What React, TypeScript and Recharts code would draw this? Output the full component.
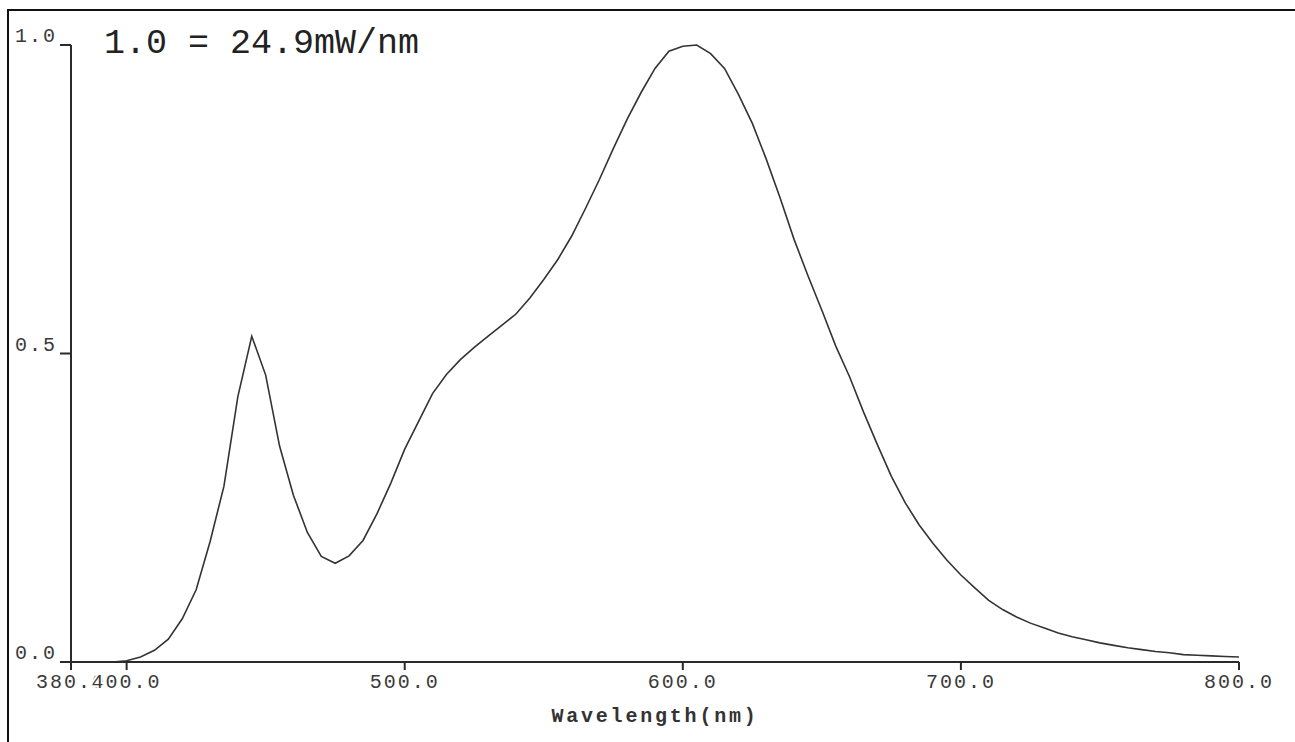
import React from "react";
import { LineChart, Line, XAxis, YAxis } from "recharts";

// relative spectral power, sampled every 5 nm
const wavelengths = [
  380, 385, 390, 395, 400, 405, 410, 415, 420, 425, 430, 435, 440, 445, 450,
  455, 460, 465, 470, 475, 480, 485, 490, 495, 500, 505, 510, 515, 520, 525,
  530, 535, 540, 545, 550, 555, 560, 565, 570, 575, 580, 585, 590, 595, 600,
  605, 610, 615, 620, 625, 630, 635, 640, 645, 650, 655, 660, 665, 670, 675,
  680, 685, 690, 695, 700, 705, 710, 715, 720, 725, 730, 735, 740, 745, 750,
  755, 760, 765, 770, 775, 780, 785, 790, 795, 800,
];
const intensity = [
  0.0, 0.0, 0.0, 0.0, 0.002, 0.008, 0.019, 0.037, 0.07, 0.117, 0.195, 0.285,
  0.43, 0.528, 0.465, 0.35, 0.27, 0.21, 0.171, 0.16, 0.172, 0.197, 0.24, 0.29,
  0.345, 0.39, 0.435, 0.466, 0.49, 0.51, 0.528, 0.546, 0.564, 0.59, 0.62,
  0.652, 0.69, 0.735, 0.782, 0.832, 0.88, 0.923, 0.962, 0.99, 0.998, 1.0,
  0.986, 0.962, 0.92, 0.873, 0.815, 0.752, 0.685, 0.626, 0.57, 0.512, 0.462,
  0.405, 0.352, 0.301, 0.258, 0.222, 0.192, 0.165, 0.141, 0.12, 0.1, 0.085,
  0.073, 0.063, 0.055, 0.047, 0.041, 0.036, 0.031, 0.027, 0.023, 0.02, 0.017,
  0.015, 0.012, 0.011, 0.01, 0.009, 0.008,
];
const xTicks = [380, 400, 500, 600, 700, 800];
const yTicks = [0, 0.5, 1.0];
const scaleNote = "1.0 = 24.9mW/nm";
const xTitle = "Wavelength(nm)";

const data = wavelengths.map((w, i) => ({ w, v: intensity[i] }));

const FONT = "'Liberation Mono', 'DejaVu Sans Mono', monospace";
const INK = "#2a2a2a";

const XTick = (props: any) => {
  const { x, y, payload } = props;
  return (
    <text
      x={x}
      y={y + 18}
      textAnchor="middle"
      fontFamily={FONT}
      fontSize={20}
      letterSpacing={2}
      fill="#3a3a3a"
      stroke="#fff"
      strokeWidth={4}
      paintOrder="stroke"
    >
      {Number(payload.value).toFixed(1)}
    </text>
  );
};

const YTick = (props: any) => {
  const { x, y, payload } = props;
  return (
    <text
      x={x - 3}
      y={y - 3}
      textAnchor="end"
      fontFamily={FONT}
      fontSize={20}
      letterSpacing={2}
      fill="#3a3a3a"
    >
      {Number(payload.value).toFixed(1)}
    </text>
  );
};

const App = () => {
  return (
    <>
      <style>{`html, body { overflow: hidden; background: #fff; }`}</style>
      <div
        style={{
          position: "fixed",
          left: 0,
          top: 0,
          width: 1295,
          height: 742,
          background: "#fff",
          overflow: "hidden",
        }}
      >
        {/* window frame: left and top edges only */}
        <div style={{ position: "absolute", left: 8, top: 9, width: 1287, height: 2, background: "#111" }} />
        <div style={{ position: "absolute", left: 7, top: 9, width: 2, height: 733, background: "#111" }} />
        <div
          style={{
            position: "absolute",
            left: 104,
            top: 27,
            fontFamily: FONT,
            fontSize: 35,
            lineHeight: 1,
            color: "#222",
            whiteSpace: "pre",
          }}
        >
          {scaleNote}
        </div>
        <div style={{ position: "absolute", left: 10, top: 10 }}>
          <LineChart
            width={1285}
            height={732}
            data={data}
            margin={{ top: 35, right: 56, left: 0, bottom: 10 }}
          >
            <XAxis
              dataKey="w"
              type="number"
              domain={[380, 800]}
              ticks={xTicks}
              interval={0}
              height={70}
              tickSize={8}
              tickMargin={0}
              tick={<XTick />}
              axisLine={{ stroke: INK, strokeWidth: 2 }}
              tickLine={{ stroke: INK, strokeWidth: 2 }}
              label={{
                value: xTitle,
                position: "insideBottom",
                offset: 10,
                fontFamily: FONT,
                fontSize: 20,
                letterSpacing: 2.8,
                fontWeight: "bold",
                fill: "#333",
              }}
            />
            <YAxis
              type="number"
              domain={[0, 1]}
              ticks={yTicks}
              interval={0}
              width={61}
              tickSize={11}
              tickMargin={0}
              tick={<YTick />}
              axisLine={{ stroke: INK, strokeWidth: 2 }}
              tickLine={{ stroke: INK, strokeWidth: 2 }}
            />
            <Line
              type="linear"
              dataKey="v"
              stroke="#333"
              strokeWidth={1.6}
              dot={false}
              isAnimationActive={false}
            />
          </LineChart>
        </div>
      </div>
    </>
  );
};

export default App;
